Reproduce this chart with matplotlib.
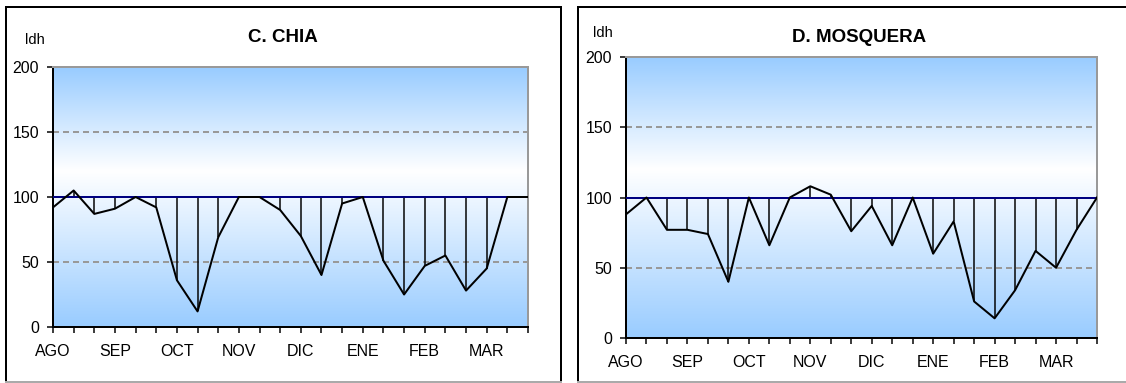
import numpy as np
import matplotlib
matplotlib.use('Agg')
import matplotlib.pyplot as plt
from matplotlib.colors import LinearSegmentedColormap
from matplotlib.lines import Line2D

plt.rcParams['font.family'] = ['Liberation Sans', 'DejaVu Sans']

# data: decadal values, 3 per month, AGO..MAR
months = ['AGO', 'SEP', 'OCT', 'NOV', 'DIC', 'ENE', 'FEB', 'MAR']
chia = [92, 105, 87, 91, 100, 92, 36, 12, 69, 100, 100, 90,
        70, 40, 95, 100, 51, 25, 47, 55, 28, 45, 100, 100]
mosquera = [88, 100, 77, 77, 74, 40, 100, 66, 100, 108, 102, 76,
            94, 66, 100, 60, 83, 26, 14, 34, 62, 50, 77, 100]
reference = 100
ylabel = 'ldh'

W, H = 1126, 383
fig = plt.figure(figsize=(W / 100, H / 100), dpi=100)

px = 0.72  # 1 pixel in points
grad = LinearSegmentedColormap.from_list(
    'bg', [(0, '#99CCFF'), (0.6, '#FFFFFF'), (1, '#99CCFF')])


def frame(x0, x1):
    # outer chart frame, in pixel coords
    y0, y1 = 7, 382
    X = lambda v: v / W
    Y = lambda v: 1 - v / H
    fig.add_artist(Line2D([X(x0), X(x0)], [Y(y0), Y(y1)], color='black', lw=2 * px))
    fig.add_artist(Line2D([X(x0), X(x1)], [Y(y0), Y(y0)], color='black', lw=2 * px))
    if x1 < W:
        fig.add_artist(Line2D([X(x1), X(x1)], [Y(y0), Y(y1)], color='black', lw=2 * px))
    fig.add_artist(Line2D([X(x0), X(x1)], [Y(y1), Y(y1)], color='#AAAAAA', lw=2 * px))


def panel(rect, values, title, title_xy, lab_xy, pad_lab):
    ax = fig.add_axes(rect)
    n = len(values)
    x = np.arange(n)
    ax.set_xlim(0, n - 1)
    ax.set_ylim(0, 200)

    # vertical gradient background
    g = np.linspace(0, 1, 256).reshape(-1, 1)
    ax.imshow(g, cmap=grad, aspect='auto', extent=[0, n - 1, 0, 200],
              origin='lower', zorder=0)

    for yv in (50, 150):
        ax.axhline(yv, color='#999999', lw=2 * px, ls=(0, (3, 2)), zorder=1)

    ax.vlines(x, np.minimum(values, reference), np.maximum(values, reference),
              color='black', lw=1.5 * px, zorder=2)
    ax.plot(x, [reference] * n, color='#000080', lw=2 * px, zorder=3)
    ax.plot(x, values, color='black', lw=2 * px, zorder=4)

    for side in ('top', 'right'):
        ax.spines[side].set_color('#999999')
        ax.spines[side].set_linewidth(2 * px)
    for side in ('left', 'bottom'):
        ax.spines[side].set_color('black')
        ax.spines[side].set_linewidth(2 * px)

    ax.set_yticks([0, 50, 100, 150, 200])
    ax.set_xticks(x)
    ax.set_xticklabels([months[i // 3] if i % 3 == 0 else '' for i in x])
    ax.tick_params(axis='y', direction='out', length=4, width=1.5 * px,
                   labelsize=11.5, pad=6)
    ax.tick_params(axis='x', direction='out', length=4, width=1.5 * px,
                   labelsize=11.5, pad=pad_lab)

    fig.text(title_xy[0] / W, 1 - title_xy[1] / H, title, fontsize=13.5,
             fontweight='bold', ha='center', va='center')
    fig.text(lab_xy[0] / W, 1 - lab_xy[1] / H, ylabel, fontsize=10.5,
             ha='center', va='center')
    return ax


frame(6, 561)
frame(578, W + 10)

panel([53 / W, 1 - 327 / H, (528 - 53) / W, (327 - 67) / H],
      chia, 'C. CHIA', (283, 37), (35, 40), 8)
panel([626 / W, 1 - 338 / H, (1097 - 626) / W, (338 - 57) / H],
      mosquera, 'D. MOSQUERA', (859, 37), (603, 33), 8)

fig.savefig('out.png', dpi=100)
